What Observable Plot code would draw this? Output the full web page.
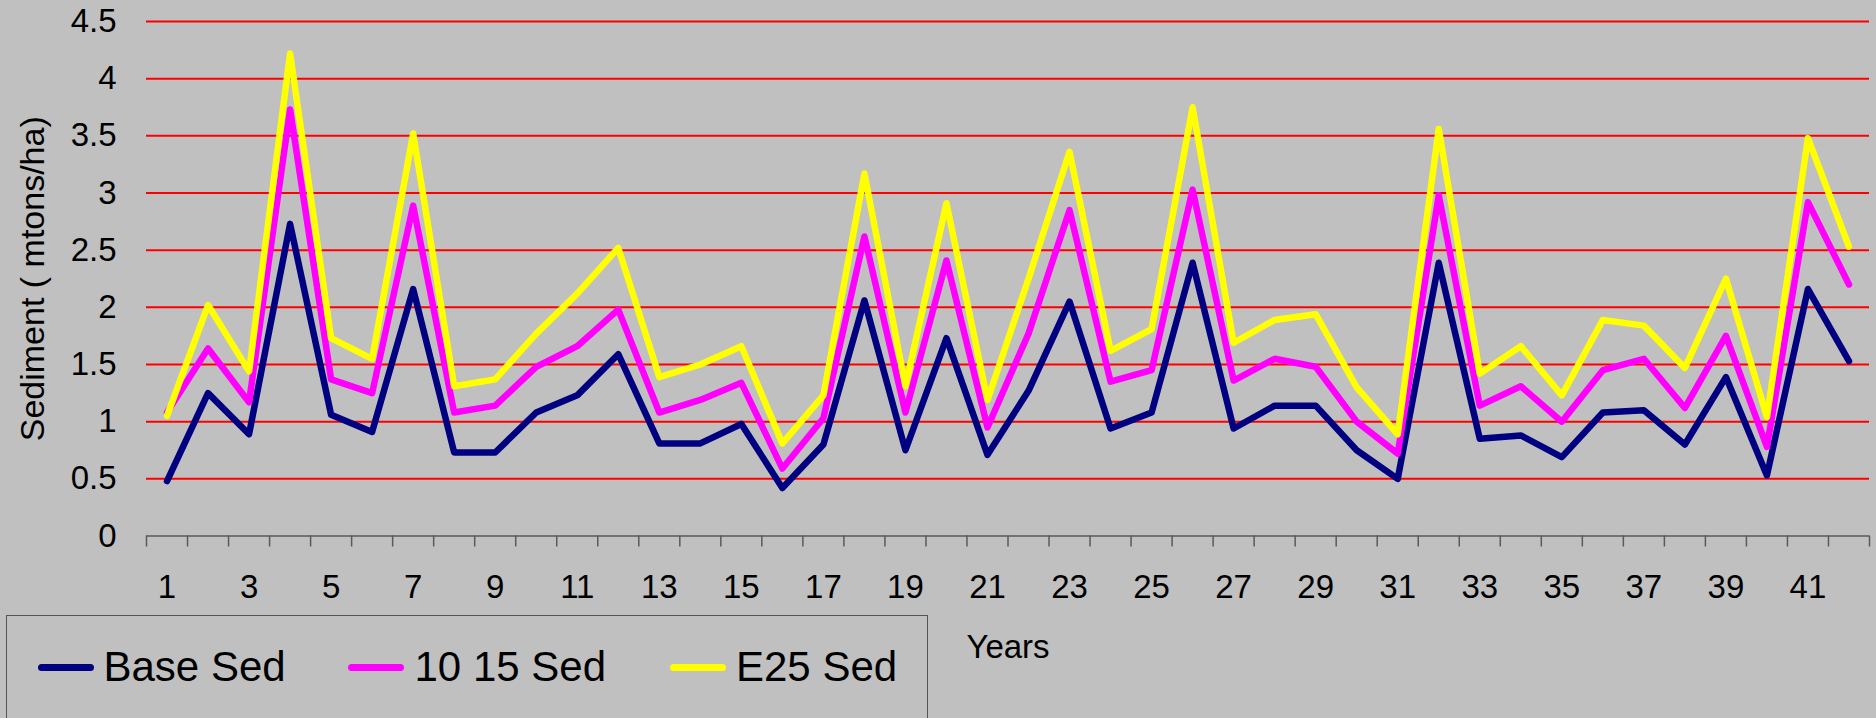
<!DOCTYPE html>
<html>
<head>
<meta charset="utf-8">
<script src="https://cdn.jsdelivr.net/npm/d3@7"></script>
<script src="https://cdn.jsdelivr.net/npm/@observablehq/plot@0.6"></script>
<style>
  html, body { margin: 0; padding: 0; background: #c0c0c0; width: 1876px; height: 718px; overflow: hidden;
    font-family: "Liberation Sans", Arial, sans-serif; }
  #chart { position: relative; width: 1876px; height: 718px; }
  #chart svg { position: absolute; left: 0; top: 0; }
  #legend { position: absolute; left: 6px; top: 615px; width: 922px; height: 160px;
    border: 1.5px solid #555; box-sizing: border-box; background: #c0c0c0; }
  .sw { position: absolute; height: 7px; width: 56px; border-radius: 3.5px; }
  .lt { position: absolute; font-size: 42px; line-height: 42px; color: #000; white-space: nowrap; }
</style>
</head>
<body>
<div id="chart"></div>
<script>
// ---- data ----
const years = [1,2,3,4,5,6,7,8,9,10,11,12,13,14,15,16,17,18,19,20,21,22,23,24,25,26,27,28,29,30,31,32,33,34,35,36,37,38,39,40,41,42];
const baseSed = [0.48,1.25,0.89,2.73,1.06,0.91,2.16,0.73,0.73,1.08,1.23,1.59,0.81,0.81,0.98,0.42,0.80,2.06,0.75,1.73,0.71,1.27,2.05,0.94,1.08,2.39,0.94,1.14,1.14,0.75,0.50,2.39,0.85,0.88,0.69,1.08,1.10,0.80,1.39,0.53,2.16,1.53];
const sed1015 = [1.08,1.64,1.17,3.73,1.37,1.25,2.89,1.08,1.14,1.48,1.66,1.98,1.08,1.19,1.34,0.59,1.03,2.62,1.08,2.41,0.95,1.77,2.85,1.35,1.45,3.03,1.36,1.55,1.48,1.00,0.72,2.98,1.14,1.31,1.00,1.45,1.55,1.12,1.75,0.78,2.92,2.20];
const e25Sed = [1.05,2.02,1.44,4.22,1.73,1.55,3.52,1.31,1.37,1.77,2.12,2.52,1.39,1.50,1.66,0.81,1.23,3.17,1.31,2.91,1.19,2.25,3.36,1.62,1.81,3.75,1.69,1.89,1.94,1.30,0.89,3.56,1.42,1.66,1.23,1.89,1.84,1.47,2.25,1.04,3.48,2.53];
const seriesNames = ["Base Sed", "10 15 Sed", "E25 Sed"];
const seriesColors = ["#000080", "#FF00FF", "#FFFF00"];
const yTicks = [0, 0.5, 1, 1.5, 2, 2.5, 3, 3.5, 4, 4.5];
const xLabelTicks = [1,3,5,7,9,11,13,15,17,19,21,23,25,27,29,31,33,35,37,39,41];
const yTitle = "Sediment ( mtons/ha)";
const xTitle = "Years";

// ---- build table ----
const seriesValues = [baseSed, sed1015, e25Sed];
const rows = [];
seriesNames.forEach((name, s) => {
  years.forEach((yr, i) => rows.push({year: yr, value: seriesValues[s][i], series: name}));
});
// band boundaries between categories (for tick marks)
const tickBounds = [years[0] - 0.5, ...years.map(y => y + 0.5)];

const font = "Liberation Sans, Arial, sans-serif";

const plot = Plot.plot({
  width: 1876,
  height: 718,
  marginLeft: 146,
  marginRight: 7,
  marginTop: 21,
  marginBottom: 182.5,
  style: {background: "transparent", fontFamily: font, fontSize: "33px", color: "#000", overflow: "visible"},
  x: {type: "linear", domain: [years[0] - 0.5, years[years.length - 1] + 0.5], label: null},
  y: {domain: [0, 4.5], label: null},
  color: {domain: seriesNames, range: seriesColors},
  marks: [
    Plot.ruleY(yTicks.filter(d => d > 0), {stroke: "#FF0000", strokeWidth: 2}),
    Plot.ruleY([0], {stroke: "#5a5a5a", strokeWidth: 1.5}),
    Plot.axisX(tickBounds, {tickSize: 11, tickFormat: () => "", stroke: "#5a5a5a", strokeWidth: 1.5, label: null}),
    Plot.axisX(xLabelTicks, {tickSize: 0, tickPadding: 39, tickFormat: d => String(d), fontSize: 33, fill: "#000", label: null}),
    Plot.axisY(yTicks, {tickSize: 0, tickPadding: 30, tickFormat: d => String(d), fontSize: 33, fill: "#000", label: null}),
    Plot.line(rows, {x: "year", y: "value", z: "series", stroke: "series", strokeWidth: 6.5,
      strokeLinejoin: "round", strokeLinecap: "round"}),
    Plot.text([yTitle], {frameAnchor: "left", rotate: -90, dx: -113.6, fontSize: 34, fill: "#000",
      textAnchor: "middle", lineAnchor: "middle"}),
    Plot.text([xTitle], {frameAnchor: "bottom", dy: 111, fontSize: 33, fill: "#000",
      textAnchor: "middle", lineAnchor: "middle"})
  ]
});
document.getElementById("chart").appendChild(plot);

// ---- legend ----
const legend = document.createElement("div");
legend.id = "legend";
const swLeft = [30.5, 340.5, 662.5];
const txtLeft = [96.5, 407.5, 729];
seriesNames.forEach((name, i) => {
  const sw = document.createElement("div");
  sw.className = "sw";
  sw.style.left = swLeft[i] + "px";
  sw.style.top = "47.7px";
  sw.style.background = seriesColors[i];
  legend.appendChild(sw);
  const t = document.createElement("div");
  t.className = "lt";
  t.style.left = txtLeft[i] + "px";
  t.style.top = "29.6px";
  t.textContent = name;
  legend.appendChild(t);
});
document.getElementById("chart").appendChild(legend);
</script>
</body>
</html>
